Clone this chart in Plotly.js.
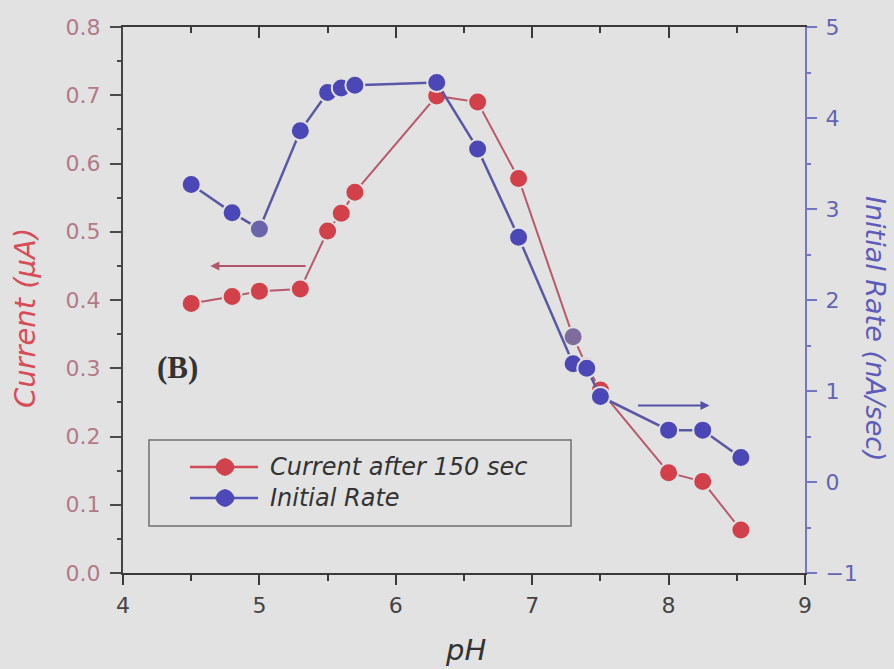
<!DOCTYPE html>
<html>
<head>
<meta charset="utf-8">
<script src="https://cdn.plot.ly/plotly-3.0.1.min.js"></script>
<style>
  html, body { margin: 0; padding: 0; background: #e2e2e2; }
  #chart { width: 894px; height: 669px; }
</style>
</head>
<body>
<div id="chart"></div>
<script>
// pH values shared by both series
const pH = [4.5, 4.8, 5.0, 5.3, 5.5, 5.6, 5.7, 6.3, 6.6, 6.9, 7.3, 7.4, 7.5, 8.0, 8.25, 8.53];
// Current after 150 sec (µA), left axis
const currentAfter150 = [0.395, 0.405, 0.413, 0.416, 0.501, 0.527, 0.558, 0.699, 0.690, 0.578, 0.346, 0.303, 0.268, 0.147, 0.134, 0.063];
// Initial rate (nA/sec), right axis
const initialRate = [3.27, 2.96, 2.78, 3.86, 4.28, 4.33, 4.36, 4.39, 3.66, 2.69, 1.30, 1.25, 0.94, 0.57, 0.57, 0.27];

const seriesNames = ['Current after 150 sec', 'Initial Rate'];
const xTicks = [4, 5, 6, 7, 8, 9];
const leftTicks = [0, 0.1, 0.2, 0.3, 0.4, 0.5, 0.6, 0.7, 0.8];
const rightTicks = [-1, 0, 1, 2, 3, 4, 5];

const BG = '#e2e2e2';
const FONT = 'DejaVu Sans, Liberation Sans, Arial, sans-serif';
const RED = '#d2404a';
const BLUE = '#4b47b6';

// Slightly muted dots where the two series overlap
const redColors = pH.map((v, i) => (i === 10 ? '#7d6c9c' : RED));
const blueColors = pH.map((v, i) => (i === 2 ? '#6a64aa' : BLUE));

const traces = [
  {
    x: pH, y: currentAfter150, xaxis: 'x', yaxis: 'y',
    name: seriesNames[0], type: 'scatter', mode: 'lines+markers',
    line: { color: '#b85a6c', width: 2 },
    marker: { size: 19, color: redColors, line: { color: BG, width: 2 } },
    showlegend: false, cliponaxis: false
  },
  {
    x: pH, y: initialRate, xaxis: 'x', yaxis: 'y2',
    name: seriesNames[1], type: 'scatter', mode: 'lines+markers',
    line: { color: '#5a58a6', width: 2.5 },
    marker: { size: 19, color: blueColors, line: { color: BG, width: 2 } },
    showlegend: false, cliponaxis: false
  },
  // empty trace so the top frame axis (inward ticks) gets drawn
  { x: [], y: [], xaxis: 'x2', yaxis: 'y', type: 'scatter', mode: 'markers', showlegend: false, hoverinfo: 'skip' }
];

// plot area in pixels: left 123, right 805, top 27, bottom 573
const PX = { l: 123, r: 805, t: 27, b: 573 };
const px2x = p => (p - PX.l) / (PX.r - PX.l);
const px2y = p => (PX.b - p) / (PX.b - PX.t);

// hand-drawn legend box
const legRows = [467, 498];
const legY = legRows.map(px2y);
const legColors = [['#d24a55', '#cf444c'], ['#5656bb', '#4d49b8']];
const shapes = [
  { type: 'rect', xref: 'paper', yref: 'paper', x0: px2x(149), x1: px2x(571), y0: px2y(526), y1: px2y(440),
    line: { color: '#707070', width: 1.5 }, fillcolor: 'rgba(0,0,0,0)' }
];
const annotations = [];
seriesNames.forEach((name, i) => {
  const r = legRows[i];
  shapes.push({ type: 'line', xref: 'paper', yref: 'paper', x0: px2x(190), x1: px2x(258), y0: legY[i], y1: legY[i],
    line: { color: legColors[i][0], width: 2.5 } });
  shapes.push({ type: 'path', xref: 'paper', yref: 'paper',
    path: `M ${px2x(215)} ${legY[i]} Q ${px2x(218)} ${px2y(r - 8)} ${px2x(225)} ${px2y(r - 9)} Q ${px2x(232)} ${px2y(r - 8)} ${px2x(235)} ${legY[i]} Q ${px2x(232)} ${px2y(r + 8)} ${px2x(225)} ${px2y(r + 9)} Q ${px2x(218)} ${px2y(r + 8)} ${px2x(215)} ${legY[i]} Z`,
    fillcolor: legColors[i][1], line: { width: 0 } });
  annotations.push({ xref: 'paper', yref: 'paper', x: px2x(268), y: legY[i], xanchor: 'left', yanchor: 'middle',
    text: name, showarrow: false, font: { family: FONT, size: 24, color: '#333', style: 'italic' } });
});

// axis titles
annotations.push(
  { xref: 'paper', yref: 'paper', x: px2x(25), y: px2y(318), text: 'Current (μA)', textangle: -90, showarrow: false,
    xanchor: 'center', yanchor: 'middle', font: { family: FONT, size: 29, color: '#d84b57', style: 'italic' } },
  { xref: 'paper', yref: 'paper', x: px2x(876), y: px2y(329), text: 'Initial Rate (nA/sec)', textangle: 90, showarrow: false,
    xanchor: 'center', yanchor: 'middle', font: { family: FONT, size: 27, color: '#5e5cba', style: 'italic' } },
  { xref: 'paper', yref: 'paper', x: px2x(465), y: px2y(650), text: 'pH', showarrow: false,
    xanchor: 'center', yanchor: 'middle', font: { family: FONT, size: 29, color: '#333', style: 'italic' } },
  { xref: 'paper', yref: 'paper', x: px2x(177), y: px2y(367), text: '<b>(B)</b>', showarrow: false,
    xanchor: 'center', yanchor: 'middle', font: { family: 'Liberation Serif, Times New Roman, serif', size: 31, color: '#333' } },
  // arrows pointing each series to its axis
  { xref: 'x', yref: 'y', axref: 'x', ayref: 'y', x: 4.64, y: 0.45, ax: 5.35, ay: 0.45, text: '',
    showarrow: true, arrowhead: 2, arrowsize: 0.9, arrowwidth: 2, arrowcolor: '#b4566a' },
  { xref: 'x', yref: 'y2', axref: 'x', ayref: 'y2', x: 8.30, y: 0.84, ax: 7.765, ay: 0.84, text: '',
    showarrow: true, arrowhead: 2, arrowsize: 0.9, arrowwidth: 2, arrowcolor: '#5452a6' }
);

const tickFont = c => ({ family: FONT, size: 22, color: c });

const layout = {
  width: 894, height: 669,
  margin: { l: PX.l, r: 894 - PX.r, t: PX.t, b: 669 - PX.b, pad: 0 },
  paper_bgcolor: BG, plot_bgcolor: BG,
  showlegend: false,
  xaxis: {
    range: [4, 9], tickvals: xTicks, ticks: 'outside', ticklen: 10, tickwidth: 2, tickcolor: '#3a3a3a',
    showline: true, linecolor: '#3a3a3a', linewidth: 2, showgrid: false, zeroline: false,
    tickfont: tickFont('#444'), ticklabelstandoff: 2,
    minor: { dtick: 0.5, tick0: 4, ticks: 'outside', ticklen: 6, tickwidth: 2, tickcolor: '#3a3a3a', showgrid: false }
  },
  xaxis2: {
    overlaying: 'x', side: 'top', anchor: 'y', range: [4, 9], tickvals: xTicks, ticks: 'inside', ticklen: 11, tickwidth: 2,
    tickcolor: '#3a3a3a', showline: true, linecolor: '#3a3a3a', linewidth: 2, showgrid: false, zeroline: false,
    showticklabels: false,
    minor: { dtick: 0.5, tick0: 4, ticks: 'inside', ticklen: 6, tickwidth: 2, tickcolor: '#3a3a3a', showgrid: false }
  },
  yaxis: {
    range: [0, 0.8], tickvals: leftTicks, tickformat: '.1f', ticks: 'outside', ticklen: 11, tickwidth: 2, tickcolor: '#4a4a4a',
    showline: true, linecolor: '#444', linewidth: 2, showgrid: false, zeroline: false,
    tickfont: tickFont('#b37a89'), ticklabelstandoff: 5,
    minor: { dtick: 0.05, tick0: 0, ticks: 'outside', ticklen: 4, tickwidth: 2, tickcolor: '#4a4a4a', showgrid: false }
  },
  yaxis2: {
    overlaying: 'y', side: 'right', anchor: 'x', range: [-1, 5], tickvals: rightTicks, ticks: 'outside', ticklen: 10, tickwidth: 2,
    tickcolor: '#7575c6', showline: true, linecolor: '#7575c6', linewidth: 2, showgrid: false, zeroline: false,
    tickfont: tickFont('#6464b4'), ticklabelstandoff: 4,
    minor: { dtick: 0.5, tick0: 0, ticks: 'outside', ticklen: 4, tickwidth: 2, tickcolor: '#7575c6', showgrid: false }
  },
  shapes: shapes,
  annotations: annotations
};

Plotly.newPlot('chart', traces, layout, { displayModeBar: false, staticPlot: true });
</script>
</body>
</html>
